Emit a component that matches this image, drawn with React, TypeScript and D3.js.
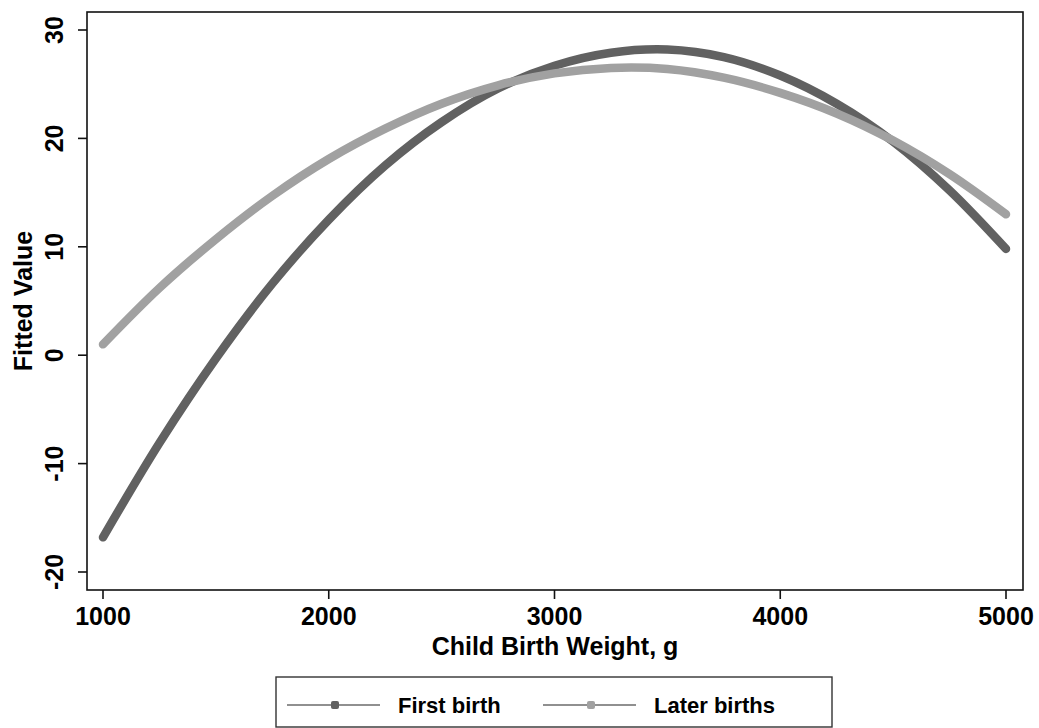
import * as d3 from "d3";

// birth weight grid (g)
const weights = [
  1000, 1250, 1500, 1750, 2000, 2250, 2500, 2750, 3000, 3250, 3500, 3750, 4000,
  4250, 4500, 4750, 5000,
];
// fitted values
const firstBirth = [
  -16.8, -8.1, -0.3, 6.6, 12.5, 17.5, 21.5, 24.6, 26.7, 27.9, 28.2, 27.5, 25.8,
  23.2, 19.7, 15.2, 9.8,
];
const laterBirths = [
  1.0, 6.2, 10.7, 14.7, 18.1, 20.9, 23.2, 24.9, 26.0, 26.5, 26.4, 25.6, 24.2,
  22.3, 19.8, 16.7, 13.0,
];
const xTicks = [1000, 2000, 3000, 4000, 5000];
const yTicks = [-20, -10, 0, 10, 20, 30];
const seriesNames = ["First birth", "Later births"];
const seriesColors = ["#616161", "#a1a1a1"];

const W = 1039;
const H = 728;
const left = 87;
const right = 1023;
const top = 12;
const bottom = 590;
const font = "'Liberation Sans', Arial, sans-serif";

export default function App() {
  const x = d3.scaleLinear().domain([1000, 5000]).range([103, 1006]);
  const y = d3.scaleLinear().domain([-20, 30]).range([572, 30]);

  const line = d3
    .line<number>()
    .x((_, i) => x(weights[i]))
    .y((d) => y(d))
    .curve(d3.curveCatmullRom);

  const series = [firstBirth, laterBirths];

  return (
    <svg
      width={W}
      height={H}
      style={{ position: "absolute", left: 0, top: 0, background: "#fff" }}
      fontFamily={font}
      fontWeight="bold"
    >
      <rect x={0} y={0} width={W} height={H} fill="#fff" />
      {series.map((s, i) => (
        <path
          key={i}
          d={line(s) ?? ""}
          fill="none"
          stroke={seriesColors[i]}
          strokeWidth={8.5}
          strokeLinecap="round"
          strokeLinejoin="round"
        />
      ))}
      <rect
        x={left}
        y={top}
        width={right - left}
        height={bottom - top}
        fill="none"
        stroke="#111"
        strokeWidth={1.6}
      />
      {/* y axis */}
      {yTicks.map((t) => (
        <g key={t}>
          <line x1={left - 9} x2={left} y1={y(t)} y2={y(t)} stroke="#111" strokeWidth={1.6} />
          <text
            transform={`translate(63,${y(t)}) rotate(-90)`}
            textAnchor="middle"
            fontSize={25}
          >
            {t}
          </text>
        </g>
      ))}
      <text
        transform={`translate(32,${(top + bottom) / 2}) rotate(-90)`}
        textAnchor="middle"
        fontSize={25}
      >
        Fitted Value
      </text>
      {/* x axis */}
      {xTicks.map((t) => (
        <g key={t}>
          <line x1={x(t)} x2={x(t)} y1={bottom} y2={bottom + 9} stroke="#111" strokeWidth={1.6} />
          <text x={x(t)} y={625} textAnchor="middle" fontSize={25}>
            {t}
          </text>
        </g>
      ))}
      <text x={(left + right) / 2} y={655} textAnchor="middle" fontSize={25}>
        Child Birth Weight, g
      </text>
      {/* legend */}
      <rect x={276} y={677} width={556} height={50} fill="#fff" stroke="#333" strokeWidth={1.4} />
      {seriesNames.map((name, i) => {
        const x0 = 287 + i * 256;
        return (
          <g key={name}>
            <line x1={x0} x2={x0 + 93} y1={705} y2={705} stroke="#222" strokeWidth={1.2} />
            <rect x={x0 + 44} y={701} width={8} height={8} rx={2} fill={seriesColors[i]} />
            <text x={x0 + 111} y={713} fontSize={22}>
              {name}
            </text>
          </g>
        );
      })}
    </svg>
  );
}
